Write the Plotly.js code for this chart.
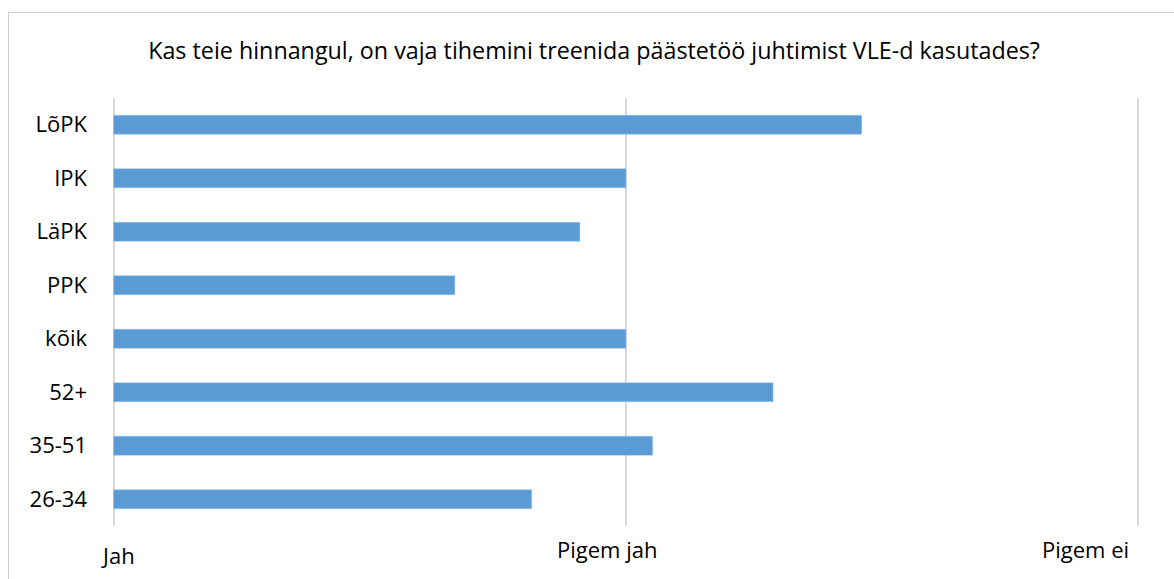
<!DOCTYPE html>
<html>
<head>
<meta charset="utf-8">
<script src="https://cdn.plot.ly/plotly-3.0.1.min.js"></script>
<style>
    body { margin: 0; background: #fff; }
    #frame { position: absolute; left: 8px; top: 12px; width: 1200px; height: 600px;
             border-left: 1px solid #d0d0d0; border-top: 1px solid #d0d0d0; }
    #chart { position: absolute; left: 0; top: 0; width: 1174px; height: 579px; }
</style>
</head>
<body>
<div id="frame"></div>
<div id="chart"></div>
<script>
const groups = ['LõPK', 'IPK', 'LäPK', 'PPK', 'kõik', '52+', '35-51', '26-34'];
const scores = [2.46, 2.0, 1.91, 1.666, 2.0, 2.287, 2.052, 1.816];
const scaleVals = [1, 2, 3];
const scaleText = ['Jah', 'Pigem jah', 'Pigem ei'];

function drawChart() {
    // bars start at the first scale point (Jah = 1)
    const baseVal = scaleVals[0];
    var trace1 = {
        type: 'bar',
        orientation: 'h',
        y: groups,
        x: scores.map(s => s - baseVal),
        base: baseVal,
        hoverinfo: 'none',
        marker: {
            color: '#5b9bd5',
            line: { color: '#9dc3e6', width: 0.5 }
        }
    };

    // scale labels sit a bit off their gridlines, like in the original
    const labelShiftX = [4, -19, -53];
    const labelShiftY = [-29, -23, -23];
    const labels = scaleVals.map((v, i) => ({
        x: v,
        y: 0,
        xref: 'x',
        yref: 'paper',
        text: scaleText[i],
        showarrow: false,
        xanchor: 'center',
        yanchor: 'middle',
        xshift: labelShiftX[i],
        yshift: labelShiftY[i],
        font: { size: 22, color: '#000' }
    }));

    var layout = {
        title: {
            text: 'Kas teie hinnangul, on vaja tihemini treenida päästetöö juhtimist VLE-d kasutades?',
            font: { size: 23.3, color: '#000' },
            x: 0.506,
            xanchor: 'center',
            y: 0.913,
            yanchor: 'middle'
        },
        font: { family: 'Open Sans, sans-serif', color: '#000' },
        showlegend: false,
        paper_bgcolor: 'rgba(0,0,0,0)',
        plot_bgcolor: 'rgba(0,0,0,0)',
        width: 1174,
        height: 579,
        margin: { l: 111, r: 33, t: 98, b: 53 },
        bargap: 0.645,
        xaxis: {
            range: [0.995, 3.005],
            tickvals: scaleVals,
            showticklabels: false,
            showgrid: true,
            gridcolor: '#d9d9d9',
            gridwidth: 2,
            zeroline: false,
            showline: false,
            fixedrange: true
        },
        yaxis: {
            autorange: 'reversed',
            showgrid: false,
            showline: false,
            ticks: '',
            ticklabelstandoff: 23,
            tickfont: { size: 22, color: '#000' },
            fixedrange: true
        },
        annotations: labels
    };

    Plotly.newPlot('chart', [trace1], layout, { staticPlot: true });
}

drawChart();
</script>
</body>
</html>
